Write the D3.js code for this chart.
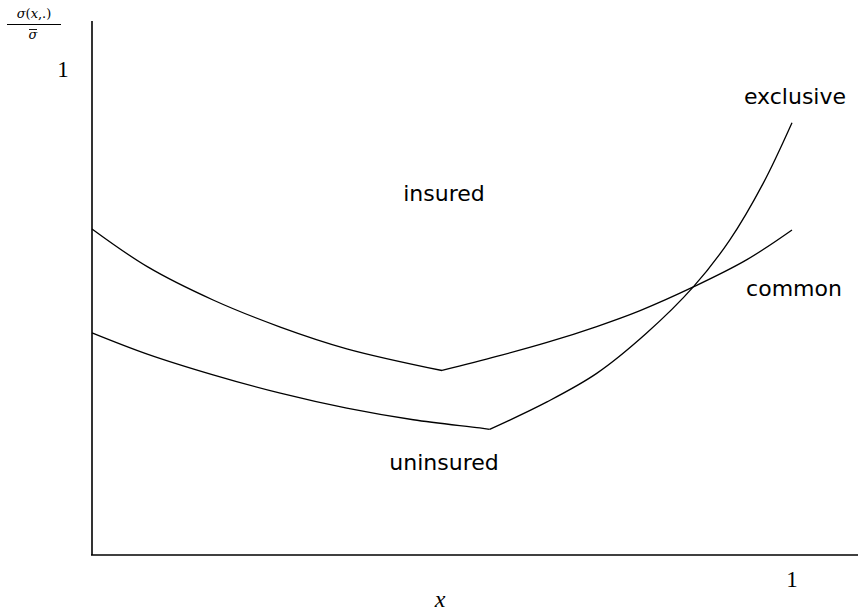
<!DOCTYPE html>
<html>
<head>
<meta charset="utf-8">
<script src="https://cdn.jsdelivr.net/npm/d3@7"></script>
<style>
  body { margin: 0; background: #fff; }
  text { fill: #000; }
</style>
</head>
<body>
<script>
// values, x and y both in [0, 1] units
var insuredX = [0, 0.079, 0.173, 0.269, 0.364, 0.5, 0.578, 0.65, 0.721, 0.783, 0.859, 0.935, 1.0];
var insuredY = [0.675, 0.597, 0.528, 0.472, 0.427, 0.382, 0.411, 0.44, 0.473, 0.506, 0.555, 0.611, 0.673];
var uninsuredX = [0, 0.079, 0.173, 0.269, 0.364, 0.459, 0.554, 0.568, 0.65, 0.721, 0.792, 0.859, 0.911, 0.959, 1.0];
var uninsuredY = [0.46, 0.416, 0.373, 0.335, 0.304, 0.28, 0.263, 0.26, 0.317, 0.376, 0.459, 0.555, 0.652, 0.77, 0.895];
var xTicks = [1];
var yTicks = [1];

var width = 858, height = 614;
var x = d3.scaleLinear().domain([0, 1]).range([92, 792]);
var y = d3.scaleLinear().domain([0, 1]).range([555, 72]);

var svg = d3.select("body").append("svg")
    .attr("width", width)
    .attr("height", height);

// axes as plain lines
svg.append("line")
    .attr("x1", 92).attr("x2", 92).attr("y1", 21).attr("y2", 555)
    .attr("stroke", "#000").attr("stroke-width", 1.6);
svg.append("line")
    .attr("x1", 91).attr("x2", 858).attr("y1", 555).attr("y2", 555)
    .attr("stroke", "#000").attr("stroke-width", 1.6);

var line = d3.line()
    .curve(d3.curveCatmullRom)
    .x(function(d) { return x(d[0]); })
    .y(function(d) { return y(d[1]); });

// each curve has a kink at its minimum, so smooth the two sides separately
var pieces = [];
[d3.zip(insuredX, insuredY), d3.zip(uninsuredX, uninsuredY)].forEach(function(pts) {
    var k = d3.minIndex(pts, function(d) { return d[1]; });
    pieces.push(pts.slice(0, k + 1));
    pieces.push(pts.slice(k));
});
svg.selectAll("path.curve")
    .data(pieces)
    .enter().append("path")
    .attr("class", "curve")
    .attr("d", line)
    .attr("fill", "none")
    .attr("stroke", "#000")
    .attr("stroke-width", 1.3);

// tick labels
svg.selectAll("text.xt").data(xTicks).enter().append("text")
    .attr("x", function(d) { return x(d); })
    .attr("y", 587)
    .attr("text-anchor", "middle")
    .style("font-family", "Liberation Serif")
    .style("font-size", "23px")
    .text(function(d) { return d; });
svg.selectAll("text.yt").data(yTicks).enter().append("text")
    .attr("x", 63)
    .attr("y", function(d) { return y(d) + 5; })
    .attr("text-anchor", "middle")
    .style("font-family", "Liberation Serif")
    .style("font-size", "23px")
    .text(function(d) { return d; });

// axis titles
svg.append("text")
    .attr("x", 440).attr("y", 607)
    .attr("text-anchor", "middle")
    .style("font-family", "Liberation Serif")
    .style("font-style", "italic")
    .style("font-size", "24px")
    .text("x");

var ylab = svg.append("g").style("font-family", "DejaVu Serif").style("font-size", "13px");
var num = ylab.append("text").attr("x", 34).attr("y", 18).attr("text-anchor", "middle");
num.append("tspan").style("font-style", "italic").text("σ");
num.append("tspan").text("(");
num.append("tspan").style("font-style", "italic").text("x");
num.append("tspan").text(",.)");
ylab.append("line")
    .attr("x1", 7).attr("x2", 61).attr("y1", 24.5).attr("y2", 24.5)
    .attr("stroke", "#000").attr("stroke-width", 1);
ylab.append("text").attr("x", 33).attr("y", 39).attr("text-anchor", "middle")
    .style("font-style", "italic").text("σ");
ylab.append("line")
    .attr("x1", 29).attr("x2", 37).attr("y1", 29.5).attr("y2", 29.5)
    .attr("stroke", "#000").attr("stroke-width", 0.9);

// region and curve labels
var labels = [
    {t: "insured", px: 444, py: 201},
    {t: "uninsured", px: 444, py: 470},
    {t: "exclusive", px: 795, py: 104},
    {t: "common", px: 794, py: 296}
];
svg.selectAll("text.lab").data(labels).enter().append("text")
    .attr("class", "lab")
    .attr("x", function(d) { return d.px; })
    .attr("y", function(d) { return d.py; })
    .attr("text-anchor", "middle")
    .style("font-family", "DejaVu Sans")
    .style("font-size", "22px")
    .text(function(d) { return d.t; });
</script>
</body>
</html>
